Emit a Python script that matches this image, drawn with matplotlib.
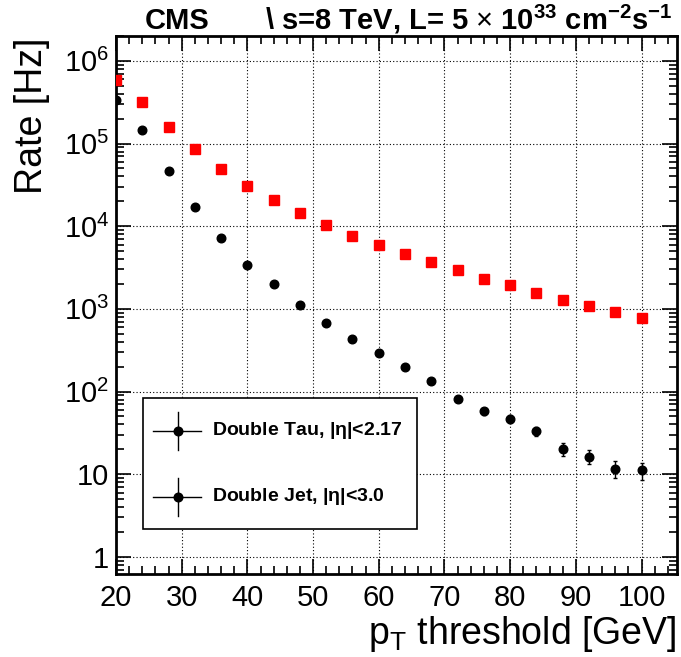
import numpy as np
import matplotlib
matplotlib.use("Agg")
import matplotlib.pyplot as plt
from matplotlib.ticker import FixedLocator, FuncFormatter, LogLocator, NullFormatter
from matplotlib.lines import Line2D
from matplotlib.patches import Rectangle

plt.rcParams['font.family'] = ['Liberation Sans', 'DejaVu Sans']
plt.rcParams['mathtext.fontset'] = 'custom'
plt.rcParams['mathtext.rm'] = 'Liberation Sans'
plt.rcParams['mathtext.it'] = 'Liberation Sans:italic'
plt.rcParams['mathtext.bf'] = 'Liberation Sans:bold'

# pT threshold [GeV]
pt = [20, 24, 28, 32, 36, 40, 44, 48, 52, 56, 60, 64, 68, 72, 76, 80, 84, 88, 92, 96, 100]

# red squares
rate_red = [5.8e5, 3.2e5, 1.58e5, 8.7e4, 4.9e4, 3.04e4, 2.1e4, 1.45e4, 1.04e4, 7.7e3, 5.9e3,
            4.66e3, 3.69e3, 2.93e3, 2.32e3, 1.93e3, 1.56e3, 1.27e3, 1.07e3, 908, 775]

# black circles
rate_black = [3.34e5, 1.45e5, 4.66e4, 1.72e4, 7.1e3, 3.4e3, 1.98e3, 1.10e3, 667, 436, 290,
              200, 133, 82, 58, 46.5, 33, 20.3, 16.3, 11.7, 11.1]
err_black = [450, 300, 170, 100, 65, 45, 34, 25, 20, 16, 13,
             11, 9, 7, 5.9, 5.2, 4.4, 3.5, 3.2, 2.7, 2.5]

legend_labels = [r"Double Tau, $\mathregular{|η|}$<2.17", r"Double Jet, $\mathregular{|η|}$<3.0"]

W, H = 681, 657
fig = plt.figure(figsize=(W / 100, H / 100), dpi=100)
ax = fig.add_axes([116 / W, 1 - 574 / H, (677 - 116) / W, (574 - 36) / H])

ax.errorbar(pt, rate_black, yerr=err_black, fmt='o', color='black', ms=6.2,
            elinewidth=1, capsize=1.5, capthick=1, zorder=3)
ax.plot(pt, rate_red, 's', color='#ff0000', ms=6.5, mec='#ff0000', zorder=3)

ax.set_yscale('log')
ax.set_xlim(20, 105.4)
ax.set_ylim(0.62, 2.0e6)

ax.xaxis.set_major_locator(FixedLocator(np.arange(20, 101, 10)))
ax.xaxis.set_minor_locator(FixedLocator(np.arange(20, 106, 2)))
ax.yaxis.set_major_locator(LogLocator(base=10, numticks=12))
ax.yaxis.set_minor_locator(LogLocator(base=10, subs=np.arange(2, 10), numticks=12))
ax.yaxis.set_minor_formatter(NullFormatter())


def yfmt(v, pos):
    e = int(round(np.log10(v)))
    if e == 0:
        return "1"
    if e == 1:
        return "10"
    return r"$\mathregular{10^{%d}}$" % e


ax.yaxis.set_major_formatter(FuncFormatter(yfmt))
ax.tick_params(which='both', direction='in', top=True, right=True, labelsize=21, width=1.2)
ax.tick_params(which='major', length=11)
ax.tick_params(which='minor', length=6)
ax.tick_params(axis='x', pad=7)
ax.tick_params(axis='y', pad=5)
for s in ax.spines.values():
    s.set_linewidth(2)

ax.grid(True, which='major', color='black', linestyle=(0, (1, 2)), linewidth=0.8)

# axis titles
fig.text(677 / W, 1 - 644 / H, r"p$_{\mathregular{T}}$ threshold [GeV]", ha='right', va='baseline', fontsize=27)
fig.text(32 / W, 1 - 38 / H, "Rate [Hz]", rotation=90, ha='center', va='top', fontsize=27)

# header
fig.text(177 / W, 1 - 29 / H, "CMS", ha='center', va='baseline', fontsize=21, fontweight='bold')
fig.text(265 / W, 1 - 29 / H,
         r"\ s=8 TeV, L= 5 $\times$ 10$^{\mathbf{33}}$ cm$^{\mathbf{-2}}$s$^{\mathbf{-1}}$",
         ha='left', va='baseline', fontsize=21, fontweight='bold')


# legend drawn by hand in pixel coordinates (ROOT style)
def fx(x):
    return x / W


def fy(y):
    return 1 - y / H


fig.add_artist(Rectangle((fx(143), fy(529)), fx(417) - fx(143), fy(398) - fy(529),
                         transform=fig.transFigure, facecolor='white', edgecolor='black',
                         linewidth=1.2, zorder=5))
for yc, lab in zip([430.7, 496.7], legend_labels):
    fig.add_artist(Line2D([fx(153), fx(201)], [fy(yc), fy(yc)], transform=fig.transFigure,
                          color='black', lw=1, zorder=6))
    fig.add_artist(Line2D([fx(177.7), fx(177.7)], [fy(yc - 19), fy(yc + 19)], transform=fig.transFigure,
                          color='black', lw=1, zorder=6))
    fig.add_artist(Line2D([fx(177.7)], [fy(yc)], transform=fig.transFigure, marker='o', ms=6.2,
                          color='black', zorder=6))
    fig.text(fx(211.7), fy(yc), lab, ha='left', va='center', fontsize=14, fontweight='bold', zorder=7)

fig.savefig("out.png", dpi=100)
